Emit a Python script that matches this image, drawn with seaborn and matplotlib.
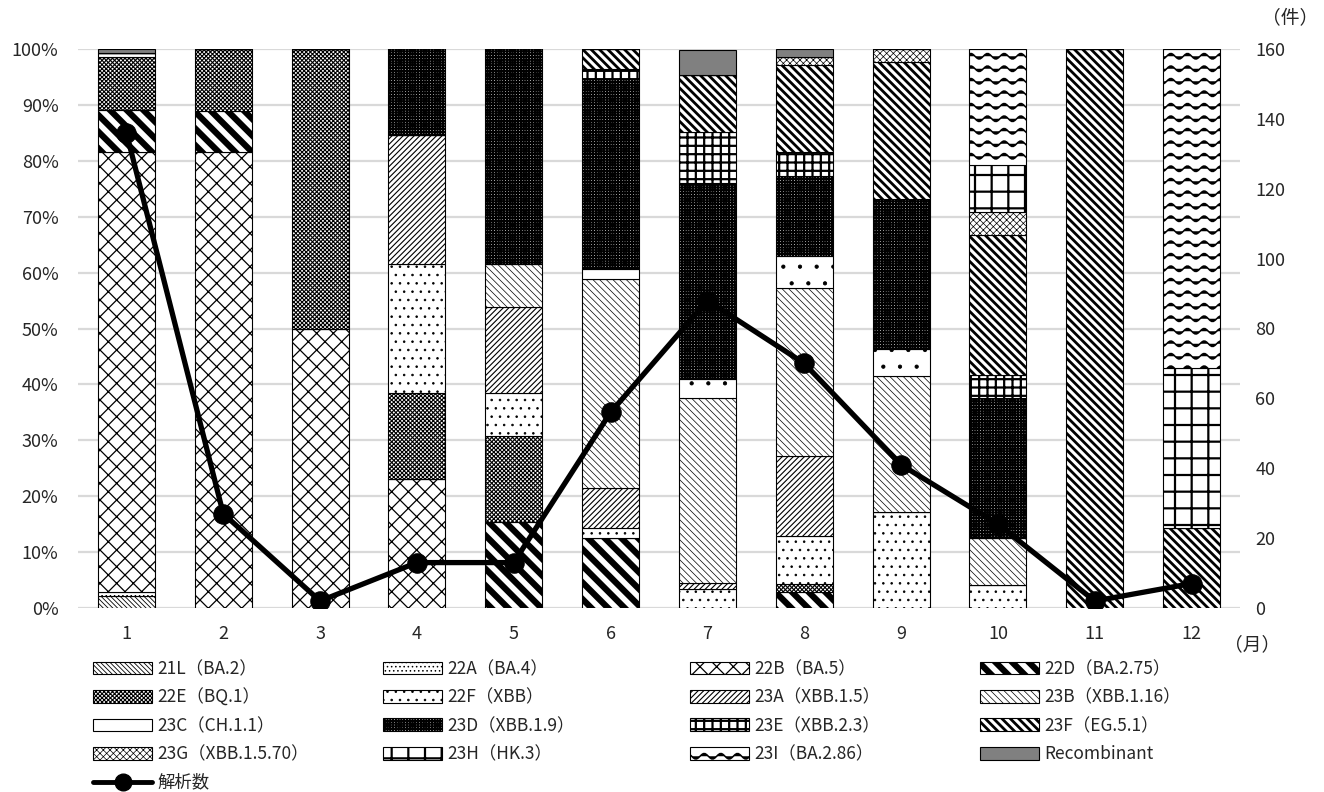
import warnings
import numpy as np
import matplotlib
matplotlib.use('Agg')
import matplotlib.pyplot as plt
from matplotlib import hatch as mhatch
from matplotlib.path import Path
from matplotlib.patches import Patch
from matplotlib.lines import Line2D
import seaborn as sns

warnings.filterwarnings('ignore')

# Data (share of each lineage per month, %)
months = ['1', '2', '3', '4', '5', '6', '7', '8', '9', '10', '11', '12']
counts = [136, 27, 2, 13, 13, 56, 88, 70, 41, 24, 2, 7]

lineages = ['21L（BA.2）', '22A（BA.4）', '22B（BA.5）', '22D（BA.2.75）',
            '22E（BQ.1）', '22F（XBB）', '23A（XBB.1.5）', '23B（XBB.1.16）',
            '23C（CH.1.1）', '23D（XBB.1.9）', '23E（XBB.2.3）', '23F（EG.5.1）',
            '23G（XBB.1.5.70）', '23H（HK.3）', '23I（BA.2.86）', 'Recombinant']

share_21L = [2.2, 0, 0, 0, 0, 0, 0, 0, 0, 0, 0, 0]
share_22A = [0.7, 0, 0, 0, 0, 0, 0, 0, 0, 0, 0, 0]
share_22B = [78.7, 81.5, 50.0, 23.1, 0, 0, 0, 0, 0, 0, 0, 0]
share_22D = [7.4, 7.4, 0, 0, 15.4, 12.5, 0, 2.9, 0, 0, 0, 0]
share_22E = [9.6, 11.1, 50.0, 15.4, 15.4, 0, 0, 1.4, 0, 0, 0, 0]
share_22F = [0, 0, 0, 23.1, 7.7, 1.8, 3.4, 8.6, 17.1, 4.2, 0, 0]
share_23A = [0, 0, 0, 23.1, 15.4, 7.1, 1.1, 14.3, 0, 0, 0, 0]
share_23B = [0, 0, 0, 0, 7.7, 37.5, 33.0, 30.0, 24.4, 8.3, 0, 0]
share_23C = [0.7, 0, 0, 0, 0, 1.8, 3.4, 5.7, 4.9, 0, 0, 0]
share_23D = [0, 0, 0, 15.4, 38.5, 33.9, 35.2, 14.3, 26.8, 25.0, 0, 0]
share_23E = [0, 0, 0, 0, 0, 1.8, 9.1, 4.3, 0, 4.2, 0, 0]
share_23F = [0, 0, 0, 0, 0, 3.6, 10.2, 15.7, 24.4, 25.0, 100.0, 14.3]
share_23G = [0, 0, 0, 0, 0, 0, 0, 1.4, 2.4, 4.2, 0, 0]
share_23H = [0, 0, 0, 0, 0, 0, 0, 0, 0, 8.3, 0, 28.6]
share_23I = [0, 0, 0, 0, 0, 0, 0, 0, 0, 20.8, 0, 57.1]
share_rec = [0.7, 0, 0, 0, 0, 0, 4.5, 1.4, 0, 0, 0, 0]

shares = [share_21L, share_22A, share_22B, share_22D, share_22E, share_22F,
          share_23A, share_23B, share_23C, share_23D, share_23E, share_23F,
          share_23G, share_23H, share_23I, share_rec]

# hatch, hatch line width, face colour -- mimicking the Excel fill patterns
styles = [
    ('\\' * 7, 0.6, 'white'),     # 21L
    ('....', 0.6, 'white'),       # 22A
    ('xx', 0.9, 'white'),         # 22B
    ('\\' * 2, 4.5, 'white'),     # 22D
    ('x' * 8, 0.8, 'white'),      # 22E
    ('..', 0.6, 'white'),         # 22F
    ('/' * 6, 0.8, 'white'),      # 23A
    ('\\' * 5, 0.5, 'white'),     # 23B
    ('.', 0.6, 'white'),          # 23C
    ('+' * 6, 1.4, 'white'),      # 23D
    ('++', 1.6, 'white'),         # 23E
    ('\\' * 4, 2.0, 'white'),     # 23F
    ('x' * 5, 0.5, 'white'),      # 23G
    ('+', 1.6, 'white'),          # 23H
    ('~', 1.1, 'white'),          # 23I
    ('', 1.0, '#808080'),         # Recombinant
]


class WaveHatch(mhatch.HatchPatternBase):
    # wavy lines, used for the '~' character in a hatch string
    def __init__(self, hatch, density):
        self.num_lines = int(hatch.count('~') * density * 4 / 3)
        self.pts = 61
        self.num_vertices = self.num_lines * self.pts

    def set_vertices_and_codes(self, vertices, codes):
        xs = np.linspace(0.0, 1.0, self.pts)
        step = 1.0 / self.num_lines
        for i in range(self.num_lines):
            sl = slice(i * self.pts, (i + 1) * self.pts)
            vertices[sl, 0] = xs
            vertices[sl, 1] = (i + 0.5) * step + 0.028 * np.sin(2 * np.pi * 6 * xs)
            codes[sl] = Path.LINETO
            codes[i * self.pts] = Path.MOVETO


mhatch._hatch_types.append(WaveHatch)


def set_hlw(patch, lw):
    if hasattr(patch, 'set_hatch_linewidth'):
        patch.set_hatch_linewidth(lw)


sns.set_style('white')
plt.rcParams['font.family'] = ['Noto Sans CJK JP', 'DejaVu Sans']

fig = plt.figure(figsize=(13.24, 7.92), dpi=100)
ax = fig.add_axes([78 / 1324, 1 - 608 / 792, 1162 / 1324, 559 / 792])

bottom = np.zeros(len(months))
for name, share, (hatch, hlw, fc) in zip(lineages, shares, styles):
    with plt.rc_context({'hatch.linewidth': hlw}):
        sns.barplot(x=months, y=share, bottom=bottom, ax=ax, width=0.59,
                    color=fc, saturation=1, hatch=hatch or None,
                    edgecolor='black', linewidth=0.8)
    for p in ax.containers[-1]:
        set_hlw(p, hlw)
    bottom += np.array(share)

ax.set_xlim(-0.5, 11.5)
ax.set_ylim(0, 100)
ax.set_yticks(np.arange(0, 101, 10))
ax.set_yticklabels([f'{v}%' for v in range(0, 101, 10)])
ax.yaxis.grid(True, color='#d9d9d9', linewidth=1.6)
ax.set_axisbelow(True)
ax.tick_params(axis='y', length=0, pad=14, labelsize=13)
ax.tick_params(axis='x', length=0, pad=12, labelsize=13)
ax.set_xlabel('')
ax.set_ylabel('')
for s in ax.spines.values():
    s.set_visible(False)

ax2 = ax.twinx()
sns.lineplot(x=np.arange(len(months)), y=counts, ax=ax2, color='black',
             marker='o', markersize=14, linewidth=3.8,
             markeredgecolor='black', legend=False)
ax2.set_xlim(-0.5, 11.5)
ax2.set_ylim(0, 160)
ax2.set_yticks(np.arange(0, 161, 20))
ax2.tick_params(axis='y', length=0, pad=11, labelsize=13)
ax2.set_ylabel('')
for s in ax2.spines.values():
    s.set_visible(False)

fig.text(1290 / 1324, 1 - 18 / 792, '（件）', ha='center', va='center', fontsize=13.5)
fig.text(1252 / 1324, 1 - 645 / 792, '（月）', ha='center', va='center', fontsize=13.5)

# legend: four fixed columns, filled row by row like the original
handles = []
for hatch, hlw, fc in styles:
    with plt.rc_context({'hatch.linewidth': hlw}):
        h = Patch(facecolor=fc, edgecolor='black', hatch=hatch or None, linewidth=0.8)
    set_hlw(h, hlw)
    handles.append(h)
line_handle = Line2D([], [], color='black', marker='o', markersize=12, linewidth=3.5)

col_x = [93, 383, 690, 980]
for c in range(4):
    idx = list(range(c, 16, 4))
    hs = [handles[i] for i in idx]
    ls = [lineages[i] for i in idx]
    lws = [styles[i][1] for i in idx]
    if c == 0:
        hs.append(line_handle)
        ls.append('解析数')
    leg = fig.legend(hs, ls, loc='upper left', bbox_to_anchor=(col_x[c] / 1324, 1 - 660 / 792),
                     frameon=False, fontsize=12.5, handlelength=3.4, handleheight=0.75,
                     handletextpad=0.3, labelspacing=0.6, borderpad=0, borderaxespad=0,
                     numpoints=1)
    for h, lw in zip(leg.legend_handles, lws):
        set_hlw(h, lw)

fig.savefig('out.png', dpi=100)
